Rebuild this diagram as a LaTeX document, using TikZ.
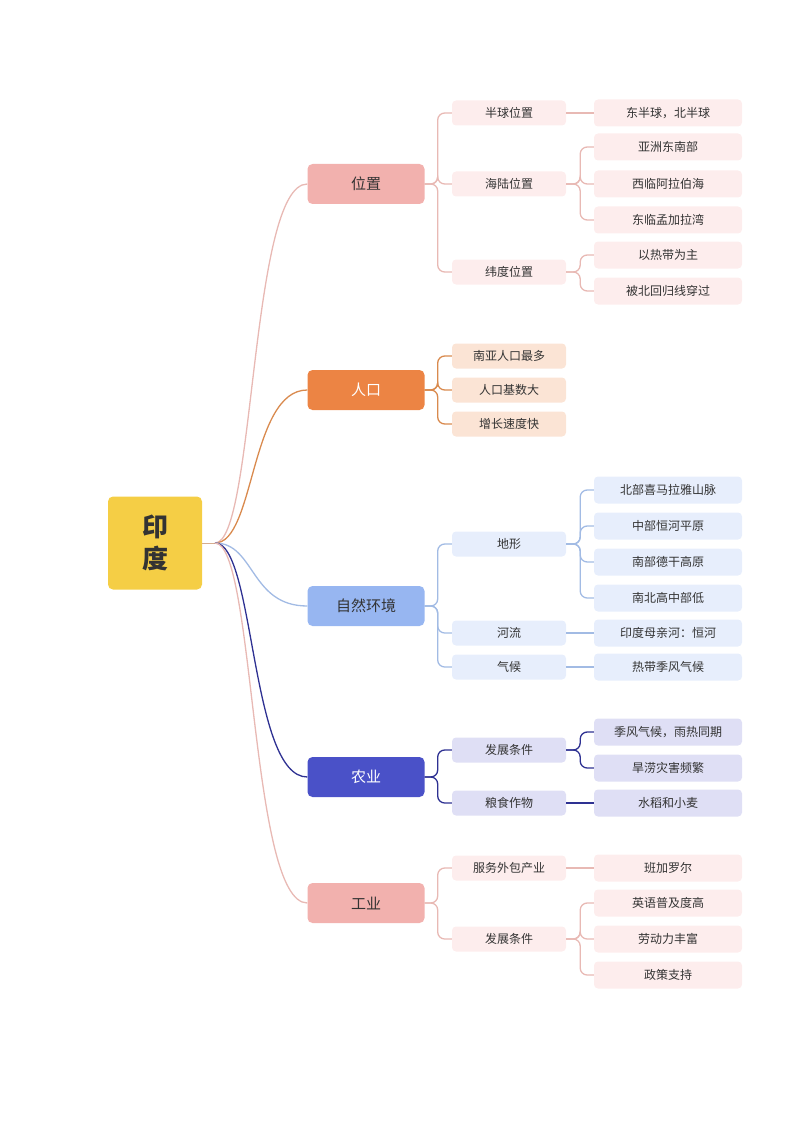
\documentclass[tikz,border=0pt]{standalone}
\usepackage{fontspec}
\setmainfont{Noto Sans CJK SC}
\usepackage{xcolor}
\usetikzlibrary{arrows.meta, positioning, calc}

\definecolor{rootY}{HTML}{F5CE45}
\definecolor{pinkA}{HTML}{F2B1AE}\definecolor{pinkL}{HTML}{FDEDED}\definecolor{pinkE}{HTML}{E8B9B4}
\definecolor{oraA}{HTML}{EC8444}\definecolor{oraL}{HTML}{FBE4D5}\definecolor{oraE}{HTML}{D98A4E}
\definecolor{bluA}{HTML}{97B6F1}\definecolor{bluL}{HTML}{E7EEFC}\definecolor{bluE}{HTML}{A2BBE4}
\definecolor{navA}{HTML}{4A51C8}\definecolor{navL}{HTML}{DFDFF5}\definecolor{navE}{HTML}{2E3192}
\definecolor{txt}{HTML}{333333}

\begin{document}
\begin{tikzpicture}[x=1pt, y=-1pt,
        root/.style={rectangle, fill=rootY, rounded corners=5pt, minimum width=94pt, minimum height=93pt, align=center, font=\fontsize{26}{32}\selectfont\bfseries, text=txt},
        main/.style={rectangle, rounded corners=5pt, minimum width=117pt, minimum height=40pt, font=\fontsize{15}{18}\selectfont, text=txt},
        sub/.style={rectangle, rounded corners=4pt, minimum width=114pt, minimum height=25pt, font=\fontsize{12}{14}\selectfont, text=txt},
        leaf/.style={rectangle, rounded corners=4pt, minimum width=148pt, minimum height=27pt, font=\fontsize{12}{14}\selectfont, text=txt},
        link/.style={line width=1.3pt, rounded corners=7pt},
    ]
        \useasboundingbox (0,0) rectangle (794,1123);

        % Root
        \node[root] (india) at (155,543) {印\\度};
        \coordinate (hub) at (215,543);
        \draw[line width=1pt, rootY!70!black!30!pinkE] (india.east) -- (hub);

        % Main branches
        \node[main, fill=pinkA] (loc) at (366,184) {位置};
        \node[main, fill=oraA, text=white] (pop) at (366,390) {人口};
        \node[main, fill=bluA] (nat) at (366,606) {自然环境};
        \node[main, fill=navA, text=white] (agr) at (366,777) {农业};
        \node[main, fill=pinkA] (ind) at (366,903) {工业};

        \draw[link, pinkE] (hub) .. controls (255,543) and (250,184) .. (loc.west);
        \draw[link, oraE] (hub) .. controls (255,543) and (250,390) .. (pop.west);
        \draw[link, bluE] (hub) .. controls (255,543) and (250,606) .. (nat.west);
        \draw[link, navE] (hub) .. controls (255,543) and (250,777) .. (agr.west);
        \draw[link, pinkE] (hub) .. controls (255,543) and (250,903) .. (ind.west);

        % 位置
        \node[sub, fill=pinkL] (hemi) at (509,113) {半球位置};
        \node[sub, fill=pinkL] (sea) at (509,184) {海陆位置};
        \node[sub, fill=pinkL] (lat) at (509,272) {纬度位置};
        \node[leaf, fill=pinkL] (hemiA) at (668,113) {东半球，北半球};
        \node[leaf, fill=pinkL] (seaA) at (668,147) {亚洲东南部};
        \node[leaf, fill=pinkL] (seaB) at (668,184) {西临阿拉伯海};
        \node[leaf, fill=pinkL] (seaC) at (668,220) {东临孟加拉湾};
        \node[leaf, fill=pinkL] (latA) at (668,255) {以热带为主};
        \node[leaf, fill=pinkL] (latB) at (668,291) {被北回归线穿过};
        \foreach \c in {hemi,sea,lat} \draw[link, pinkE] (loc.east) -- ++(13,0) |- (\c.west);
        \draw[link, pinkE] (hemi.east) -- (hemiA.west);
        \foreach \c in {seaA,seaB,seaC} \draw[link, pinkE] (sea.east) -- ++(14,0) |- (\c.west);
        \foreach \c in {latA,latB} \draw[link, pinkE] (lat.east) -- ++(14,0) |- (\c.west);

        % 人口
        \node[sub, fill=oraL] (popA) at (509,356) {南亚人口最多};
        \node[sub, fill=oraL] (popB) at (509,390) {人口基数大};
        \node[sub, fill=oraL] (popC) at (509,424) {增长速度快};
        \foreach \c in {popA,popB,popC} \draw[link, oraE] (pop.east) -- ++(13,0) |- (\c.west);

        % 自然环境
        \node[sub, fill=bluL] (terr) at (509,544) {地形};
        \node[sub, fill=bluL] (riv) at (509,633) {河流};
        \node[sub, fill=bluL] (clim) at (509,667) {气候};
        \node[leaf, fill=bluL] (terrA) at (668,490) {北部喜马拉雅山脉};
        \node[leaf, fill=bluL] (terrB) at (668,526) {中部恒河平原};
        \node[leaf, fill=bluL] (terrC) at (668,562) {南部德干高原};
        \node[leaf, fill=bluL] (terrD) at (668,598) {南北高中部低};
        \node[leaf, fill=bluL] (rivA) at (668,633) {印度母亲河：恒河};
        \node[leaf, fill=bluL] (climA) at (668,667) {热带季风气候};
        \foreach \c in {terr,riv,clim} \draw[link, bluE] (nat.east) -- ++(13,0) |- (\c.west);
        \foreach \c in {terrA,terrB,terrC,terrD} \draw[link, bluE] (terr.east) -- ++(14,0) |- (\c.west);
        \draw[link, bluE] (riv.east) -- (rivA.west);
        \draw[link, bluE] (clim.east) -- (climA.west);

        % 农业
        \node[sub, fill=navL] (cond) at (509,750) {发展条件};
        \node[sub, fill=navL] (crop) at (509,803) {粮食作物};
        \node[leaf, fill=navL] (condA) at (668,732) {季风气候，雨热同期};
        \node[leaf, fill=navL] (condB) at (668,768) {旱涝灾害频繁};
        \node[leaf, fill=navL] (cropA) at (668,803) {水稻和小麦};
        \foreach \c in {cond,crop} \draw[link, navE] (agr.east) -- ++(13,0) |- (\c.west);
        \foreach \c in {condA,condB} \draw[link, navE] (cond.east) -- ++(14,0) |- (\c.west);
        \draw[link, navE] (crop.east) -- (cropA.west);

        % 工业
        \node[sub, fill=pinkL] (serv) at (509,868) {服务外包产业};
        \node[sub, fill=pinkL] (fact) at (509,939) {发展条件};
        \node[leaf, fill=pinkL] (servA) at (668,868) {班加罗尔};
        \node[leaf, fill=pinkL] (factA) at (668,903) {英语普及度高};
        \node[leaf, fill=pinkL] (factB) at (668,939) {劳动力丰富};
        \node[leaf, fill=pinkL] (factC) at (668,975) {政策支持};
        \foreach \c in {serv,fact} \draw[link, pinkE] (ind.east) -- ++(13,0) |- (\c.west);
        \draw[link, pinkE] (serv.east) -- (servA.west);
        \foreach \c in {factA,factB,factC} \draw[link, pinkE] (fact.east) -- ++(14,0) |- (\c.west);
    \end{tikzpicture}
\end{document}
